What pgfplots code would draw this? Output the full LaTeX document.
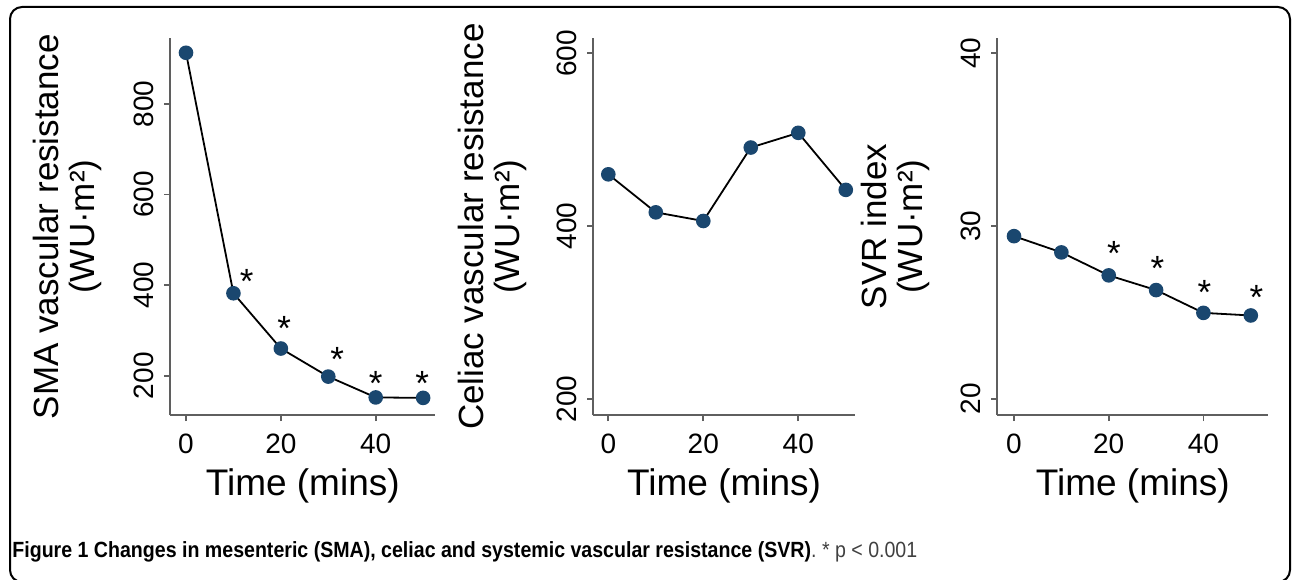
\documentclass[border=0pt]{standalone}
\usepackage{fontspec}
\setmainfont{Liberation Sans}
\newfontfamily\capfont{Liberation Sans}[FakeStretch=0.89]
\usepackage{pgfplots}
\pgfplotsset{compat=1.18}
\definecolor{stnavy}{RGB}{26,71,111}
\definecolor{axgray}{RGB}{95,95,95}

\pgfplotsset{
  panel/.style={
    scale only axis, anchor=south west, height=188.35pt,
    axis lines=left, axis line style={-, axgray, line width=1pt},
    tick style={axgray, line width=0.9pt}, tick align=outside, major tick length=3pt,
    xtick={0,20,40}, minor tick num=0,
    /pgf/number format/assume math mode=true,
    tick label style={font=\fontsize{14}{14}\selectfont},
    yticklabel style={rotate=90, anchor=south, inner ysep=5pt},
    xticklabel style={anchor=north, inner ysep=6.5pt},
    xlabel={Time (mins)},
    xlabel style={at={(axis description cs:0.5,-0.213)}, anchor=base, font=\fontsize{18.5}{18.5}\selectfont},
    ylabel style={anchor=center, align=center, font=\fontsize{17.5}{18}\selectfont},
    clip=false,
  },
  series/.style={black, line width=0.9pt, mark=*, mark size=3.2pt, mark options={fill=stnavy, draw=stnavy}},
  stars/.style={draw=none, mark=none, nodes near coords={*},
    every node near coord/.append style={anchor=center, inner sep=0pt, font=\fontsize{17.5}{17.5}\selectfont}},
}
\newcommand{\ylab}[1]{#1\\(WU·m²)}

\begin{document}
\begin{tikzpicture}
\useasboundingbox (0,0) rectangle (646pt,289.5pt);
\draw[black, line width=1pt, rounded corners=6pt] (5pt,-1.5pt) rectangle (645pt,286pt);

% SMA
\begin{axis}[panel, at={(85.25pt,82pt)}, width=132.25pt,
  xmin=-3.27, xmax=52.5, ymin=113.2, ymax=945, ytick={200,400,600,800},
  ylabel={\ylab{SMA vascular resistance}},
  ylabel style={at={(axis description cs:-0.391,0.5)}}]
\addplot[series] coordinates {(0,913) (10,382) (20,260) (30,198) (40,152) (50,151)};
\addplot[stars] coordinates {(12.8,407) (20.7,304) (31.9,235) (40,182) (49.8,182)};
\end{axis}

% Celiac
\begin{axis}[panel, at={(296.65pt,82pt)}, width=130.85pt,
  xmin=-3.16, xmax=51.94, ymin=181.5, ymax=617.4, ytick={200,400,600},
  ylabel={\ylab{Celiac vascular resistance}},
  ylabel style={at={(axis description cs:-0.387,0.5)}}]
\addplot[series] coordinates {(0,460) (10,416) (20,406) (30,491) (40,508) (50,442)};
\end{axis}

% SVR
\begin{axis}[panel, at={(498.65pt,82pt)}, width=135.5pt,
  xmin=-3.53, xmax=53.7, ymin=19.07, ymax=40.87, ytick={20,30,40},
  ylabel={\ylab{SVR index}},
  ylabel style={at={(axis description cs:-0.377,0.5)}}]
\addplot[series] coordinates {(0,29.42) (10,28.48) (20,27.15) (30,26.30) (40,24.98) (50,24.83)};
\addplot[stars] coordinates {(21.1,28.40) (30.3,27.53) (40.2,26.18) (51.2,25.89)};
\end{axis}

\node[anchor=base west, inner sep=0pt, font=\capfont\fontsize{11}{12}\selectfont] at (6pt,10.5pt)
  {\bfseries Figure 1 Changes in mesenteric (SMA), celiac and systemic vascular resistance (SVR)\mdseries\color{black!75}. * p < 0.001};
\end{tikzpicture}
\end{document}
